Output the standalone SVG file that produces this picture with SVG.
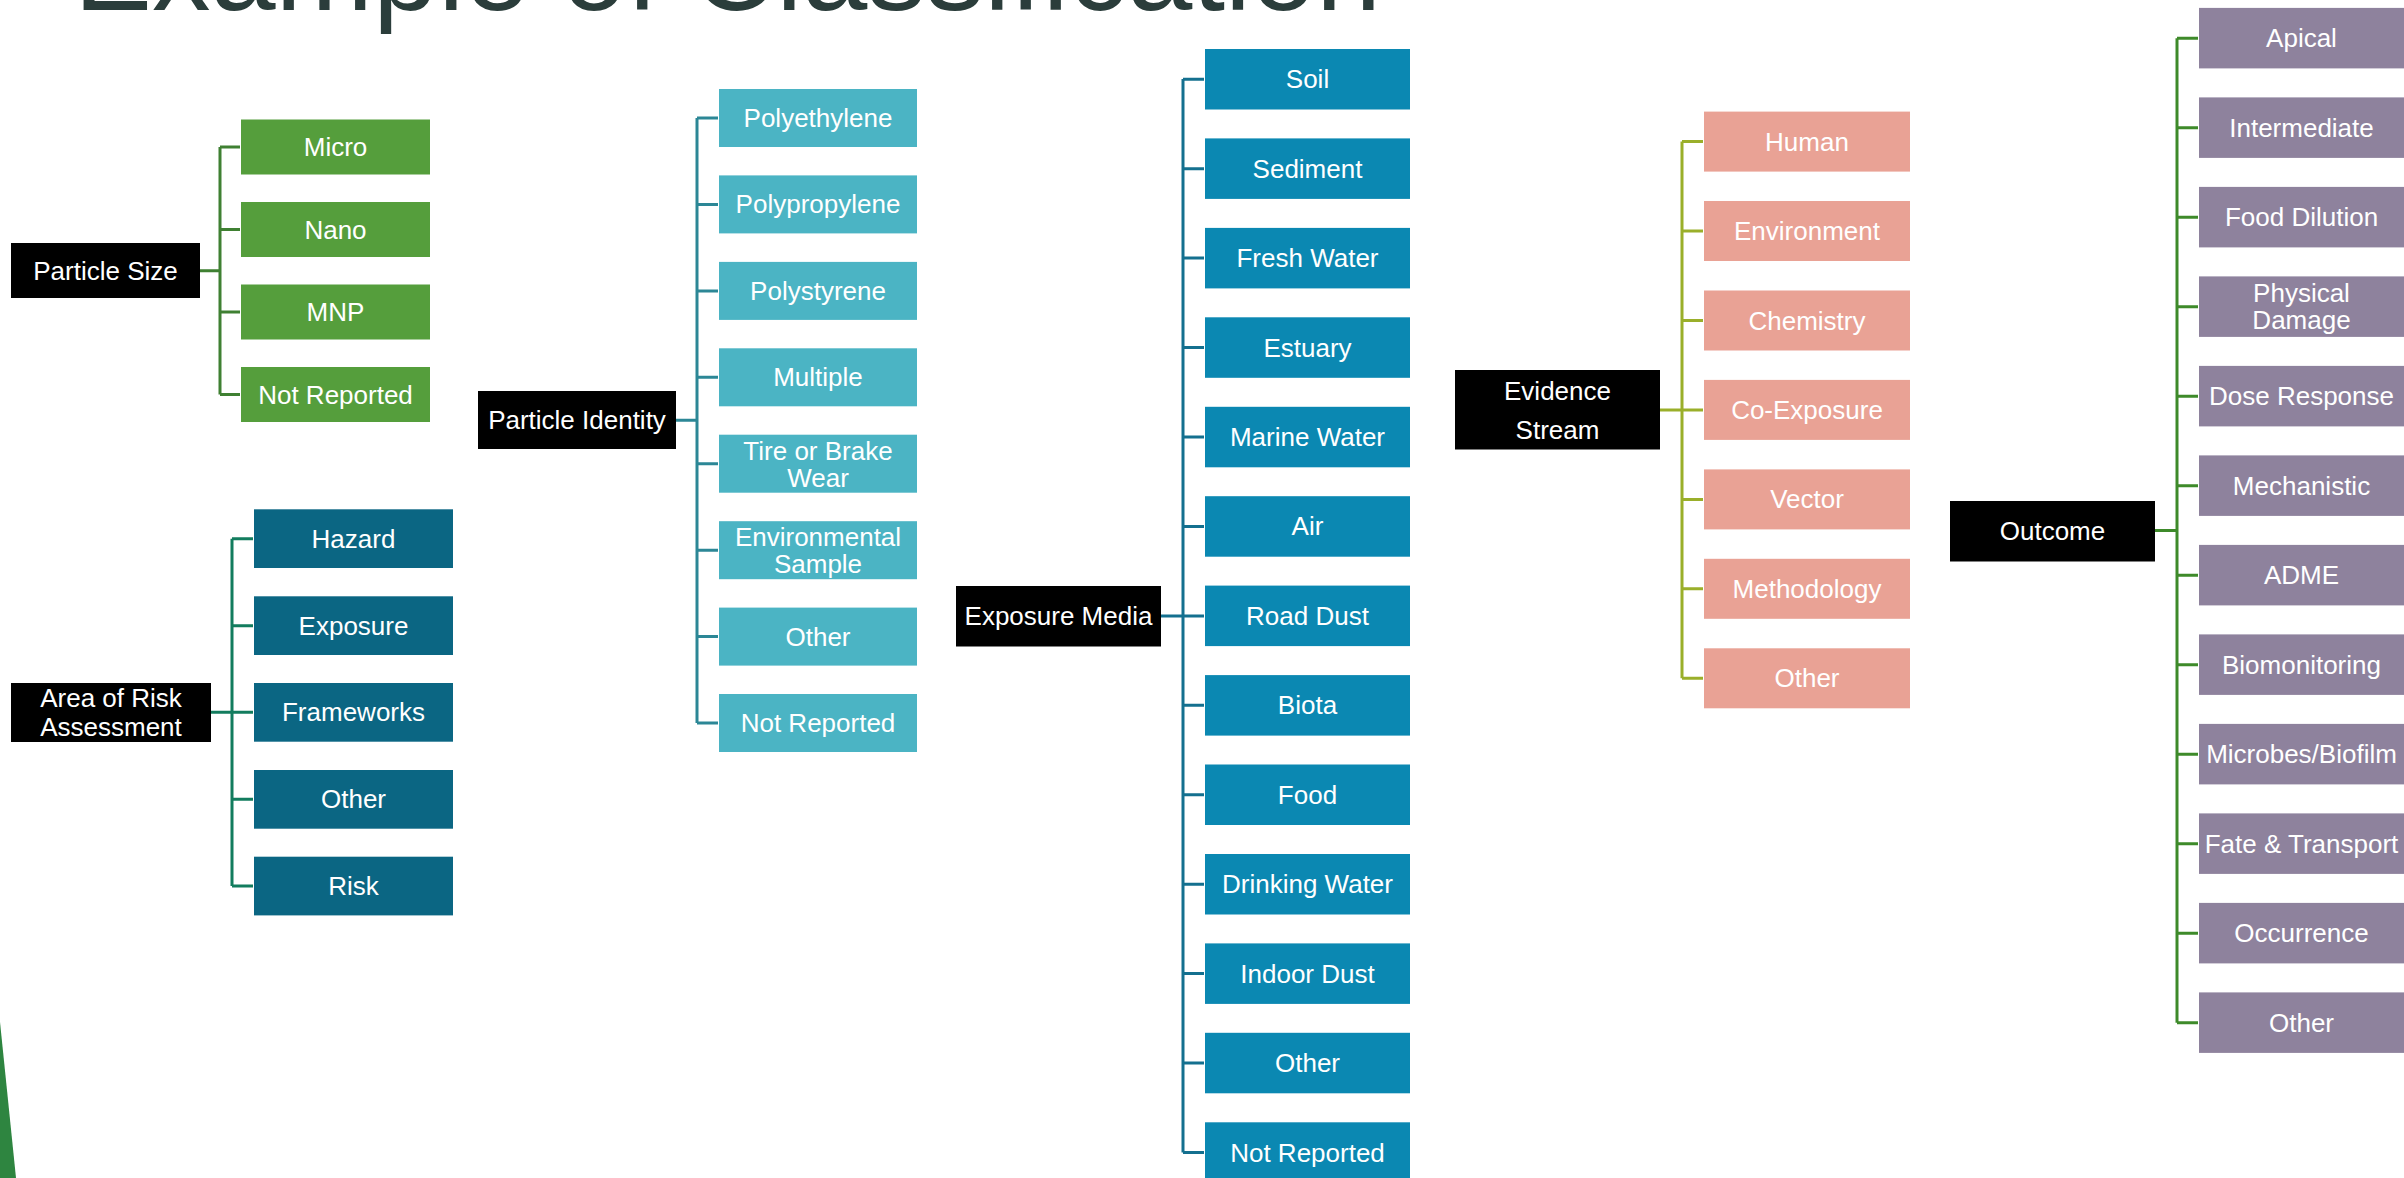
<svg xmlns="http://www.w3.org/2000/svg" width="2404" height="1178" viewBox="0 0 2404 1178">
<style>
text{font-family:"Liberation Sans",Arial,sans-serif;font-size:26px;fill:#fff;text-anchor:middle}
.title{font-size:117px;fill:#2B3D3B;text-anchor:start}
.par{fill:#000}
.g{fill:#559E3C}
.dt{fill:#0B6683}
.lt{fill:#4BB4C4}
.em{fill:#0B88B2}
.sa{fill:#E9A295}
.pu{fill:#8E829D}
.c{fill:none;stroke-width:3}
.cg{stroke:#3F8032}
.cdt{stroke:#127C5E}
.clt{stroke:#2C8796}
.cem{stroke:#14708F}
.csa{stroke:#9AAF2A}
.cpu{stroke:#3E8A2A}
</style>
<rect width="2404" height="1178" fill="#fff"/>
<polygon points="0,1022 16,1178 0,1178" fill="#2E8540"/>
<text class="title" x="74" y="10">Example of Classification</text>

<g id="connectors">
<path class="c cg" d="M200,270.7H220M220,147V394.5M220,147H240M220,229.5H240M220,312H240M220,394.5H240"/>
<path class="c cdt" d="M211,712.3H232M232,538.7V886M232,538.7H253M232,625.7H253M232,712.3H253M232,799.3H253M232,886H253"/>
<path class="c clt" d="M676,420.3H697M697,118V723M697,118H718M697,204.4H718M697,290.9H718M697,377.3H718M697,463.7H718M697,550.2H718M697,636.6H718M697,723H718"/>
<path class="c cem" d="M1161,616H1183M1183,79V1152.5M1183,79.2H1204M1183,168.7H1204M1183,258.1H1204M1183,347.6H1204M1183,437H1204M1183,526.4H1204M1183,615.9H1204M1183,705.3H1204M1183,794.8H1204M1183,884.2H1204M1183,973.6H1204M1183,1063.1H1204M1183,1152.5H1204"/>
<path class="c csa" d="M1660,410H1682M1682,141.6V678.3M1682,141.6H1703M1682,231H1703M1682,320.5H1703M1682,409.9H1703M1682,499.4H1703M1682,588.8H1703M1682,678.3H1703"/>
<path class="c cpu" d="M2155,530.4H2177M2177,38.2V1022.7M2177,38.2H2198M2177,127.7H2198M2177,217.2H2198M2177,306.7H2198M2177,396.2H2198M2177,485.7H2198M2177,575.2H2198M2177,664.7H2198M2177,754.2H2198M2177,843.7H2198M2177,933.2H2198M2177,1022.7H2198"/>
</g>

<g id="particle-size">
<rect class="par" x="11" y="243" width="189" height="55"/><text x="105.5" y="279.5">Particle Size</text>
</g>
<g id="ps-micro"><rect class="g" x="241" y="119.5" width="189" height="55"/><text x="335.5" y="156">Micro</text></g>
<g id="ps-nano"><rect class="g" x="241" y="202" width="189" height="55"/><text x="335.5" y="238.5">Nano</text></g>
<g id="ps-mnp"><rect class="g" x="241" y="284.5" width="189" height="55"/><text x="335.5" y="321">MNP</text></g>
<g id="ps-nr"><rect class="g" x="241" y="367" width="189" height="55"/><text x="335.5" y="403.5">Not Reported</text></g>

<g id="area-risk">
<rect class="par" x="11" y="683" width="200" height="59"/><text x="111" y="706.5">Area of Risk</text><text x="111" y="736">Assessment</text>
</g>
<g id="ar-hazard"><rect class="dt" x="254" y="509.3" width="199" height="58.7"/><text x="353.5" y="547.7">Hazard</text></g>
<g id="ar-exposure"><rect class="dt" x="254" y="596.3" width="199" height="58.7"/><text x="353.5" y="634.7">Exposure</text></g>
<g id="ar-frameworks"><rect class="dt" x="254" y="683" width="199" height="58.7"/><text x="353.5" y="721.3">Frameworks</text></g>
<g id="ar-other"><rect class="dt" x="254" y="770" width="199" height="58.7"/><text x="353.5" y="808.3">Other</text></g>
<g id="ar-risk"><rect class="dt" x="254" y="856.7" width="199" height="58.7"/><text x="353.5" y="895">Risk</text></g>

<g id="particle-identity">
<rect class="par" x="478" y="391" width="198" height="58"/><text x="577" y="429">Particle Identity</text>
</g>
<g id="pi-pe"><rect class="lt" x="719" y="89" width="198" height="58"/><text x="818" y="127">Polyethylene</text></g>
<g id="pi-pp"><rect class="lt" x="719" y="175.4" width="198" height="58"/><text x="818" y="213.4">Polypropylene</text></g>
<g id="pi-ps"><rect class="lt" x="719" y="261.9" width="198" height="58"/><text x="818" y="299.9">Polystyrene</text></g>
<g id="pi-multiple"><rect class="lt" x="719" y="348.3" width="198" height="58"/><text x="818" y="386.3">Multiple</text></g>
<g id="pi-tire"><rect class="lt" x="719" y="434.7" width="198" height="58"/><text x="818" y="459.7">Tire or Brake</text><text x="818" y="486.7">Wear</text></g>
<g id="pi-env"><rect class="lt" x="719" y="521.2" width="198" height="58"/><text x="818" y="546.2">Environmental</text><text x="818" y="573.2">Sample</text></g>
<g id="pi-other"><rect class="lt" x="719" y="607.6" width="198" height="58"/><text x="818" y="645.6">Other</text></g>
<g id="pi-nr"><rect class="lt" x="719" y="694" width="198" height="58"/><text x="818" y="732">Not Reported</text></g>

<g id="exposure-media">
<rect class="par" x="956" y="586" width="205" height="60.5"/><text x="1058.5" y="625">Exposure Media</text>
</g>
<g id="em-soil"><rect class="em" x="1205" y="49" width="205" height="60.5"/><text x="1307.5" y="88.2">Soil</text></g>
<g id="em-sediment"><rect class="em" x="1205" y="138.4" width="205" height="60.5"/><text x="1307.5" y="177.7">Sediment</text></g>
<g id="em-fresh"><rect class="em" x="1205" y="227.9" width="205" height="60.5"/><text x="1307.5" y="267.1">Fresh Water</text></g>
<g id="em-estuary"><rect class="em" x="1205" y="317.3" width="205" height="60.5"/><text x="1307.5" y="356.6">Estuary</text></g>
<g id="em-marine"><rect class="em" x="1205" y="406.8" width="205" height="60.5"/><text x="1307.5" y="446">Marine Water</text></g>
<g id="em-air"><rect class="em" x="1205" y="496.2" width="205" height="60.5"/><text x="1307.5" y="535.4">Air</text></g>
<g id="em-road"><rect class="em" x="1205" y="585.6" width="205" height="60.5"/><text x="1307.5" y="624.9">Road Dust</text></g>
<g id="em-biota"><rect class="em" x="1205" y="675.1" width="205" height="60.5"/><text x="1307.5" y="714.3">Biota</text></g>
<g id="em-food"><rect class="em" x="1205" y="764.5" width="205" height="60.5"/><text x="1307.5" y="803.8">Food</text></g>
<g id="em-drinking"><rect class="em" x="1205" y="854" width="205" height="60.5"/><text x="1307.5" y="893.2">Drinking Water</text></g>
<g id="em-indoor"><rect class="em" x="1205" y="943.4" width="205" height="60.5"/><text x="1307.5" y="982.6">Indoor Dust</text></g>
<g id="em-other"><rect class="em" x="1205" y="1032.8" width="205" height="60.5"/><text x="1307.5" y="1072.1">Other</text></g>
<g id="em-nr"><rect class="em" x="1205" y="1122.3" width="205" height="60.5"/><text x="1307.5" y="1161.5">Not Reported</text></g>

<g id="evidence-stream">
<rect class="par" x="1455" y="370" width="205" height="79.5"/><text x="1557.5" y="400">Evidence</text><text x="1557.5" y="438.5">Stream</text>
</g>
<g id="es-human"><rect class="sa" x="1704" y="111.6" width="206" height="60"/><text x="1807" y="150.6">Human</text></g>
<g id="es-env"><rect class="sa" x="1704" y="201" width="206" height="60"/><text x="1807" y="240">Environment</text></g>
<g id="es-chem"><rect class="sa" x="1704" y="290.5" width="206" height="60"/><text x="1807" y="329.5">Chemistry</text></g>
<g id="es-coexp"><rect class="sa" x="1704" y="379.9" width="206" height="60"/><text x="1807" y="418.9">Co-Exposure</text></g>
<g id="es-vector"><rect class="sa" x="1704" y="469.4" width="206" height="60"/><text x="1807" y="508.4">Vector</text></g>
<g id="es-method"><rect class="sa" x="1704" y="558.8" width="206" height="60"/><text x="1807" y="597.8">Methodology</text></g>
<g id="es-other"><rect class="sa" x="1704" y="648.3" width="206" height="60"/><text x="1807" y="687.3">Other</text></g>

<g id="outcome">
<rect class="par" x="1950" y="501" width="205" height="60.5"/><text x="2052.5" y="540">Outcome</text>
</g>
<g id="oc-apical"><rect class="pu" x="2199" y="7.9" width="205" height="60.5"/><text x="2301.5" y="47.2">Apical</text></g>
<g id="oc-inter"><rect class="pu" x="2199" y="97.4" width="205" height="60.5"/><text x="2301.5" y="136.7">Intermediate</text></g>
<g id="oc-food"><rect class="pu" x="2199" y="186.9" width="205" height="60.5"/><text x="2301.5" y="226.2">Food Dilution</text></g>
<g id="oc-phys"><rect class="pu" x="2199" y="276.4" width="205" height="60.5"/><text x="2301.5" y="302">Physical</text><text x="2301.5" y="329">Damage</text></g>
<g id="oc-dose"><rect class="pu" x="2199" y="365.9" width="205" height="60.5"/><text x="2301.5" y="405.2">Dose Response</text></g>
<g id="oc-mech"><rect class="pu" x="2199" y="455.4" width="205" height="60.5"/><text x="2301.5" y="494.7">Mechanistic</text></g>
<g id="oc-adme"><rect class="pu" x="2199" y="544.9" width="205" height="60.5"/><text x="2301.5" y="584.2">ADME</text></g>
<g id="oc-bio"><rect class="pu" x="2199" y="634.4" width="205" height="60.5"/><text x="2301.5" y="673.7">Biomonitoring</text></g>
<g id="oc-microbes"><rect class="pu" x="2199" y="723.9" width="205" height="60.5"/><text x="2301.5" y="763.2">Microbes/Biofilm</text></g>
<g id="oc-fate"><rect class="pu" x="2199" y="813.4" width="205" height="60.5"/><text x="2301.5" y="852.7">Fate &amp; Transport</text></g>
<g id="oc-occ"><rect class="pu" x="2199" y="902.9" width="205" height="60.5"/><text x="2301.5" y="942.2">Occurrence</text></g>
<g id="oc-other"><rect class="pu" x="2199" y="992.4" width="205" height="60.5"/><text x="2301.5" y="1031.7">Other</text></g>
</svg>
